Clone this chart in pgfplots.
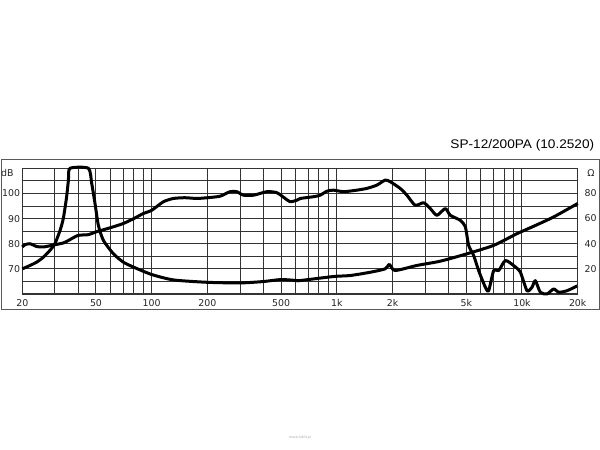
\documentclass[border=0pt]{standalone}
\usepackage{fontspec}
\setmainfont{Liberation Sans}
\newfontfamily\tickfont{DejaVu Sans}
\usepackage{pgfplots}
\pgfplotsset{compat=1.18}
\definecolor{gridc}{gray}{0.2}
\begin{document}
\begin{tikzpicture}[x=1pt,y=1pt]
\path[use as bounding box] (0,0) rectangle (600,450);
\draw[black!65, line width=1pt] (1,140) rectangle (599,290);
\begin{axis}[
  at={(22.3pt,156pt)}, anchor=south west, scale only axis,
  width=555.4pt, height=125.7pt,
  xmode=log, xmin=20, xmax=20000, ymin=60, ymax=110,
  clip=false,
  xtick={20,30,40,50,60,70,80,90,100,200,300,400,500,600,700,800,900,1000,2000,3000,4000,5000,6000,7000,8000,9000,10000,20000},
  xticklabels={20,,,50,,,,,100,200,,,500,,,,,1k,2k,,,5k,,,,,10k,20k},
  ytick={60,65,70,75,80,85,90,95,100,105,110},
  yticklabels={,,70,,80,,90,,100,,},
  major tick length=0pt, minor tick length=0pt,
  grid=major,
  major grid style={gridc, line width=1pt},
  axis line style={gridc, line width=1.2pt},
  tick label style={font=\tickfont\fontsize{9.4}{11}\selectfont, text=black!85},
  xticklabel style={yshift=-1.7pt},
  yticklabel style={xshift=1.4pt},
]
% SPL (dB)
\addplot[black, line width=3pt, line join=round, smooth, tension=0.4] coordinates {
(20,78.7) (20.67,79.6) (22.0,80) (23.9,78.9) (26.0,78.7) (30,79.6) (33.3,80.3) (35.5,81.3)
(40,83.3) (45.5,83.6) (50,84.7) (60,86.4) (70,88) (80,90) (90,92) (100,93.3)
(115.6,96.7) (131,98) (151,98.3) (175,98) (200,98.3) (234,98.9) (265,100.7) (288,100.7)
(313,99.3) (355,99.3) (419,100.7) (474,100.3) (526,98) (560,96.7) (608,97.3)
(634,98) (748,98.7) (813,99.3) (884,100.9) (959,101.3) (1087,100.7) (1282,101.3)
(1452,102) (1644,103.3) (1824,105.3) (1940,104.7) (2198,102) (2390,99.3) (2650,95.3)
(2942,96.3) (3196,94) (3473,91.3) (3852,94) (4100,91.3) (4646,89.3) (4944,86.7)
(5154,79.3) (5484,75.3) (5834,69.3) (6338,62.7) (6606,61.3) (7032,69.3) (7482,69.3)
(8128,73.3) (9018,71.3) (9796,68.7) (10646,61.3) (11326,62.7) (11806,65.3) (12562,60.7)
(13646,60) (14826,62) (15772,60.7) (17500,61.3) (20000,63.3)
};
\node[anchor=base east, font=\tickfont\fontsize{9.4}{11}\selectfont, text=black!85] at (rel axis cs:-0.0095,0.937) {dB};
\end{axis}
\begin{axis}[
  at={(22.3pt,156pt)}, anchor=south west, scale only axis,
  width=555.4pt, height=125.7pt,
  xmode=log, xmin=20, xmax=20000, ymin=0, ymax=100,
  clip=false,
  axis x line=none, axis y line*=right,
  ytick={20,40,60,80},
  yticklabels={20,40,60,80},
  major tick length=0pt,
  axis line style={gridc, line width=1.2pt},
  tick label style={font=\tickfont\fontsize{9.4}{11}\selectfont, text=black!85},
  yticklabel style={xshift=3.3pt},
]
% Impedance (Ohm)
\addplot[black, line width=3pt, line join=round, smooth, tension=0.4] coordinates {
(20,20) (22.0,22.7) (23.9,25.3) (26.0,29.3) (28.2,34.7) (30,40) (32.0,50.7) (33.3,60)
(34.7,77.3) (35.5,90.7) (36.2,100) (45.5,100) (47.4,88) (49.4,72) (51.5,54.7) (54.8,42.7)
(62.1,32) (70.3,25.3) (80,21.3) (100,15.5) (131,11.2) (200,9.3) (300,8.8) (400,9.9)
(500,11.5) (608,10.7) (634,10.7) (959,13.9) (1180,14.7) (1514,17.3) (1824,20) (1922,23.5)
(2064,18.7) (2704,22.7) (3620,26.1) (5048,32) (7032,38.7) (9398,48) (11568,53.9)
(14826,61.3) (20000,72)
};
\node[anchor=base west, font=\tickfont\fontsize{9.4}{11}\selectfont, text=black!85] at (rel axis cs:1.011,0.937) {Ω};
\end{axis}
\node[anchor=base east, font=\fontsize{12.5}{14}\selectfont, xscale=1.09] at (598,301.3) {SP-12/200PA (10.2520)};
\node[font=\fontsize{3.5}{4}\selectfont, text=black!35] at (300,12) {muzic.h824.pl};
\end{tikzpicture}
\end{document}
